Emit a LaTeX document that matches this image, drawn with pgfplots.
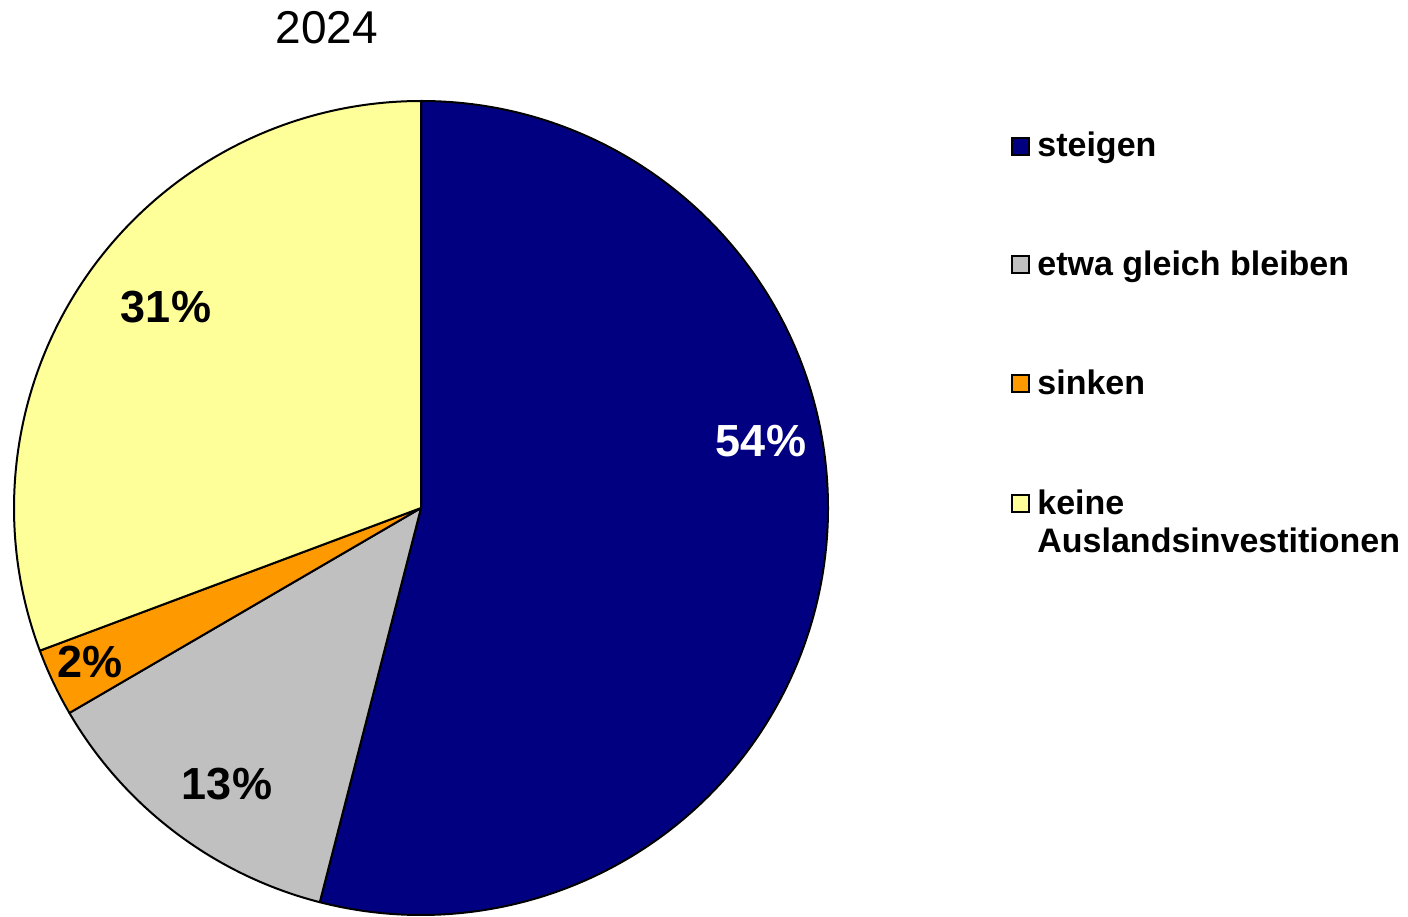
\documentclass[border=0pt]{standalone}
\usepackage{pgfplots}
\pgfplotsset{compat=1.18}
\usepackage{pgfplotstable}
\usepackage{fontspec}
\setmainfont{Liberation Sans}
\definecolor{cSteigen}{HTML}{000080}
\definecolor{cGleich}{HTML}{C0C0C0}
\definecolor{cSinken}{HTML}{FF9900}
\definecolor{cKeine}{HTML}{FFFF99}
\pgfplotstableread{
label value
steigen 54.0
gleich 12.6
sinken 2.7
keine 30.7
}\piedata
\begin{document}
\begin{tikzpicture}
\pgfplotstablegetelem{0}{value}\of\piedata\pgfmathsetmacro\aA{90-3.6*\pgfplotsretval}
\pgfplotstablegetelem{1}{value}\of\piedata\pgfmathsetmacro\aB{\aA-3.6*\pgfplotsretval}
\pgfplotstablegetelem{2}{value}\of\piedata\pgfmathsetmacro\aC{\aB-3.6*\pgfplotsretval}
\pgfplotstablegetelem{3}{value}\of\piedata\pgfmathsetmacro\aD{\aC-3.6*\pgfplotsretval}
\begin{axis}[
  at={(0,0)}, anchor=south west,
  width=704pt, height=458pt, scale only axis,
  xmin=0, xmax=1408, ymin=0, ymax=916,
  hide axis, clip=false]
\def\R{203.5pt}
\filldraw[fill=cSteigen, draw=black, line width=1pt, line join=round] (axis cs:421,408) -- ++(90:\R) arc[start angle=90, end angle=\aA, radius=\R] -- cycle;
\filldraw[fill=cGleich, draw=black, line width=1pt, line join=round] (axis cs:421,408) -- ++(\aA:\R) arc[start angle=\aA, end angle=\aB, radius=\R] -- cycle;
\filldraw[fill=cSinken, draw=black, line width=1pt, line join=round] (axis cs:421,408) -- ++(\aB:\R) arc[start angle=\aB, end angle=\aC, radius=\R] -- cycle;
\filldraw[fill=cKeine, draw=black, line width=1pt, line join=round] (axis cs:421,408) -- ++(\aC:\R) arc[start angle=\aC, end angle=\aD, radius=\R] -- cycle;
% percentage labels
\node[font=\bfseries\fontsize{22.5}{26}\selectfont, text=white, inner sep=0pt] at (axis cs:761,475) {54\%};
\node[font=\bfseries\fontsize{22.5}{26}\selectfont, inner sep=0pt] at (axis cs:227,132) {13\%};
\node[font=\bfseries\fontsize{22.5}{26}\selectfont, inner sep=0pt] at (axis cs:90,254) {2\%};
\node[font=\bfseries\fontsize{22.5}{26}\selectfont, inner sep=0pt] at (axis cs:166,609) {31\%};
% title
\node[font=\fontsize{23}{27}\selectfont, inner sep=0pt] at (axis cs:327,888) {2024};
% legend
\filldraw[fill=cSteigen, draw=black, line width=1pt] (axis cs:1012,761) rectangle (axis cs:1029,778);
\filldraw[fill=cGleich, draw=black, line width=1pt] (axis cs:1012,643) rectangle (axis cs:1029,660);
\filldraw[fill=cSinken, draw=black, line width=1pt] (axis cs:1012,524) rectangle (axis cs:1029,541);
\filldraw[fill=cKeine, draw=black, line width=1pt] (axis cs:1012,404) rectangle (axis cs:1029,421);
\node[anchor=base west, inner sep=0pt, font=\bfseries\fontsize{17}{20}\selectfont] at (axis cs:1037,759) {steigen};
\node[anchor=base west, inner sep=0pt, font=\bfseries\fontsize{17}{20}\selectfont] at (axis cs:1037,640) {etwa gleich bleiben};
\node[anchor=base west, inner sep=0pt, font=\bfseries\fontsize{17}{20}\selectfont] at (axis cs:1037,521) {sinken};
\node[anchor=base west, inner sep=0pt, font=\bfseries\fontsize{17}{20}\selectfont] at (axis cs:1037,401) {keine};
\node[anchor=base west, inner sep=0pt, font=\bfseries\fontsize{17}{20}\selectfont] at (axis cs:1037,363) {Auslandsinvestitionen};
\end{axis}
\pgfresetboundingbox
\path (0,0) rectangle (704pt,458pt);
\end{tikzpicture}
\end{document}
